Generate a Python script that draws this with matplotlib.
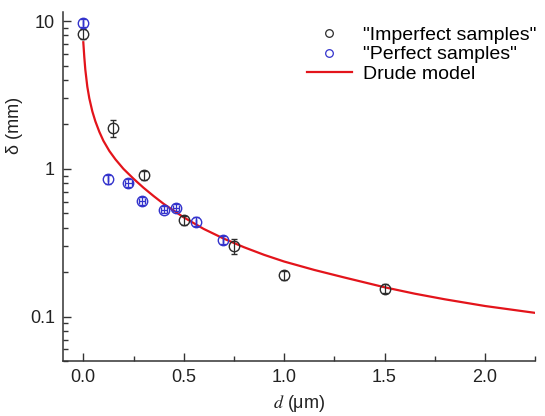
#%% Preliminaries
import numpy as np
import matplotlib
matplotlib.use('Agg')
import matplotlib.pyplot as plt
from matplotlib.lines import Line2D
from matplotlib.ticker import MultipleLocator, FormatStrFormatter, LogLocator, NullFormatter

plt.rcParams['font.family'] = ['Liberation Sans', 'DejaVu Sans']
plt.rcParams['mathtext.fontset'] = 'stix'

#%% Measured skin depth data
# "Imperfect samples"
dImp = [0.0, 0.15, 0.30, 0.50, 0.75, 1.00, 1.50]        # thickness (um)
deltaImp = [8.2, 1.90, 0.905, 0.45, 0.30, 0.19, 0.155]   # skin depth (mm)
errImp = [0.6, 0.25, 0.07, 0.03, 0.035, 0.013, 0.011]

# "Perfect samples"
dPerf = [0.0, 0.125, 0.225, 0.29, 0.40, 0.46, 0.56, 0.695]
deltaPerf = [9.7, 0.855, 0.80, 0.61, 0.53, 0.545, 0.44, 0.33]
errPerf = [0.6, 0.06, 0.05, 0.04, 0.03, 0.03, 0.03, 0.02]
xerrPerf = [0.0, 0.0, 0.015, 0.015, 0.015, 0.015, 0.0, 0.0]

# Drude model curve
dModel = [0.0, 0.005, 0.01, 0.02, 0.03, 0.045, 0.06, 0.08, 0.10, 0.13,
          0.16, 0.20, 0.25, 0.30, 0.35, 0.40, 0.50, 0.60, 0.70, 0.80,
          0.90, 1.00, 1.15, 1.30, 1.50, 1.65, 1.80, 2.00, 2.25]
deltaModel = [7.2, 5.7, 4.7, 3.6, 3.0, 2.45, 2.1, 1.78, 1.55, 1.32,
              1.16, 1.00, 0.858, 0.745, 0.655, 0.58, 0.47, 0.392, 0.337, 0.295,
              0.262, 0.236, 0.207, 0.184, 0.158, 0.143, 0.131, 0.118, 0.106]

#%% Colors and styles
cBlack = '#2b2b2b'
cBlue = '#3333cc'
cRed = '#e3141b'
cAxis = '#333333'

#%% open figure
fig = plt.figure(figsize=(5.45, 4.16), dpi=100)
ax = fig.add_axes([0.116, 0.132, 0.866, 0.840])

ax.plot(dModel, deltaModel, '-', color=cRed, lw=1.6, zorder=2)

ax.errorbar(dImp, deltaImp, yerr=errImp, fmt='o', ms=7.5, mfc='none',
            mec=cBlack, mew=1.0, ecolor=cBlack, elinewidth=0.9,
            capsize=2.2, capthick=0.9, zorder=3)
ax.errorbar(dPerf, deltaPerf, yerr=errPerf, xerr=xerrPerf, fmt='o', ms=7.5,
            mfc='none', mec=cBlue, mew=1.0, ecolor=cBlue, elinewidth=0.9,
            capsize=2.2, capthick=0.9, zorder=3)

#%% Axes setup
ax.set_yscale('log')
ax.set_xlim(-0.1, 2.25)
ax.set_ylim(0.05, 11.6)

ax.xaxis.set_major_locator(MultipleLocator(0.5))
ax.xaxis.set_minor_locator(MultipleLocator(0.25))
ax.xaxis.set_major_formatter(FormatStrFormatter('%.1f'))
ax.yaxis.set_major_locator(LogLocator(base=10, numticks=10))
ax.yaxis.set_minor_locator(LogLocator(base=10, subs=np.arange(2, 10), numticks=20))
ax.yaxis.set_major_formatter(FormatStrFormatter('%g'))
ax.yaxis.set_minor_formatter(NullFormatter())

ax.tick_params(which='both', direction='in', color=cAxis, width=1.0,
               labelsize=13, labelcolor='#222222')
ax.tick_params(which='major', length=6)
ax.tick_params(which='minor', length=3.5)
ax.tick_params(axis='x', pad=6)
ax.tick_params(axis='y', pad=6)

for s in ['top', 'right']:
    ax.spines[s].set_visible(False)
for s in ['left', 'bottom']:
    ax.spines[s].set_color(cAxis)
    ax.spines[s].set_linewidth(1.1)

ax.set_xlabel('$d$ (μm)', fontsize=13, color='#222222')
ax.set_ylabel('δ (mm)', fontsize=13, color='#222222')
ax.yaxis.set_label_coords(-0.085, 0.673)
ax.xaxis.set_label_coords(0.5, -0.092)

#%% Legend
handles = [Line2D([], [], ls='none', marker='o', ms=5.5, mfc='none', mec=cBlack, mew=0.9),
           Line2D([], [], ls='none', marker='o', ms=5.5, mfc='none', mec=cBlue, mew=0.9),
           Line2D([], [], color=cRed, lw=1.6)]
labels = ['"Imperfect samples"', '"Perfect samples"', 'Drude model']
ax.legend(handles, labels, loc='upper left', bbox_to_anchor=(0.563, 0.937),
          bbox_transform=fig.transFigure, frameon=False, fontsize=14,
          borderpad=0, borderaxespad=0, labelspacing=0.1,
          handlelength=2.3, handletextpad=0.6)

fig.savefig('out.png', dpi=100)
